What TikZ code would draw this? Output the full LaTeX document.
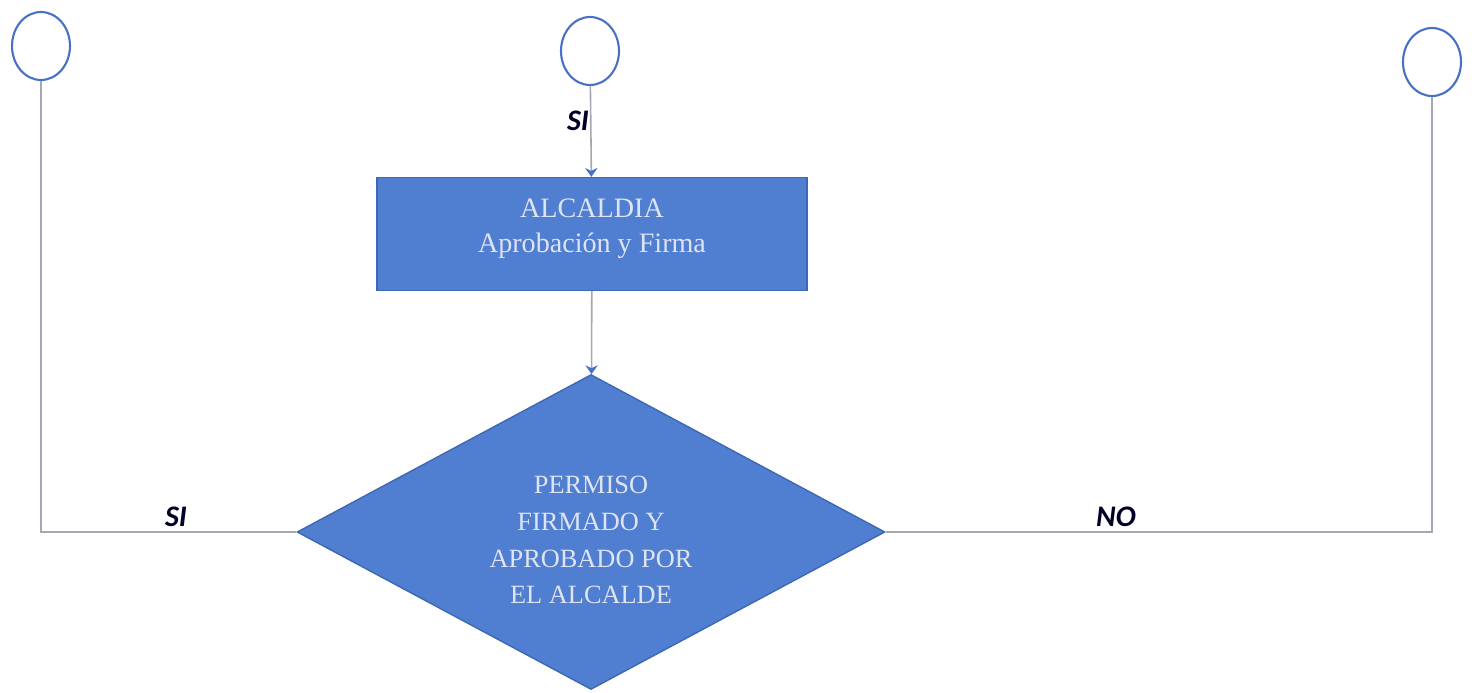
\documentclass[tikz,border=0pt]{standalone}
\usepackage{fontspec}
\setmainfont{Liberation Serif}
\newfontfamily\lblfont{Carlito}
\usetikzlibrary{shapes.geometric, arrows.meta, positioning, calc}

\definecolor{boxblue}{RGB}{80,126,208}
\definecolor{edgeblue}{RGB}{62,104,180}
\definecolor{ringblue}{RGB}{72,112,196}
\definecolor{linegray}{RGB}{165,168,178}
\definecolor{paletext}{RGB}{222,228,244}

\begin{document}
\begin{tikzpicture}[x=0.02cm, y=-0.02cm,
    connector/.style={draw=ringblue, ellipse, line width=1.2pt, minimum width=1.16cm, minimum height=1.36cm, inner sep=0pt, fill=white},
    process/.style={draw=edgeblue, fill=boxblue, rectangle, line width=0.8pt, minimum width=8.6cm, minimum height=2.26cm},
    decision/.style={draw=edgeblue, fill=boxblue, diamond, line width=0.8pt, minimum width=11.76cm, minimum height=6.3cm, inner sep=0pt},
    boxtext/.style={text=paletext, font=\fontsize{16}{20}\selectfont, align=center},
    asktext/.style={text=paletext, font=\fontsize{15}{21}\selectfont, align=center},
    flow/.style={draw=linegray, line width=0.9pt},
    branch/.style={font=\lblfont\bfseries\itshape\fontsize{17}{19}\selectfont, text=black!85!blue}]
\useasboundingbox[fill=white] (0,0) rectangle (1474,693);

% Connectors (circles)
\node[connector] (startL) at (41,46) {};
\node[connector] (startM) at (590,51) {};
\node[connector] (startR) at (1432,62) {};

% Process and decision
\node[process, label={[boxtext, yshift=0.1cm]center:ALCALDIA\\Aprobación y Firma}] (alcaldia) at (592,234) {};
\node[decision, label={[asktext, yshift=-0.16cm]center:PERMISO\\FIRMADO Y\\APROBADO POR\\EL ALCALDE}] (permiso) at (591,532) {};

% Flow lines
\draw[flow, -{Stealth[length=5pt, width=7pt, color=ringblue]}] (startM) -- (alcaldia);
\draw[flow, -{Stealth[length=5pt, width=7pt, color=ringblue]}] (alcaldia) -- (permiso);
\draw[flow] (permiso.west) -| (startL);
\draw[flow] (permiso.east) -| (startR);

% Branch labels
\node[branch] (siTop) at (578,121) {SI};
\node[branch] (siLeft) at (176,517) {SI};
\node[branch] (noRight) at (1116,517) {NO};
\end{tikzpicture}
\end{document}
